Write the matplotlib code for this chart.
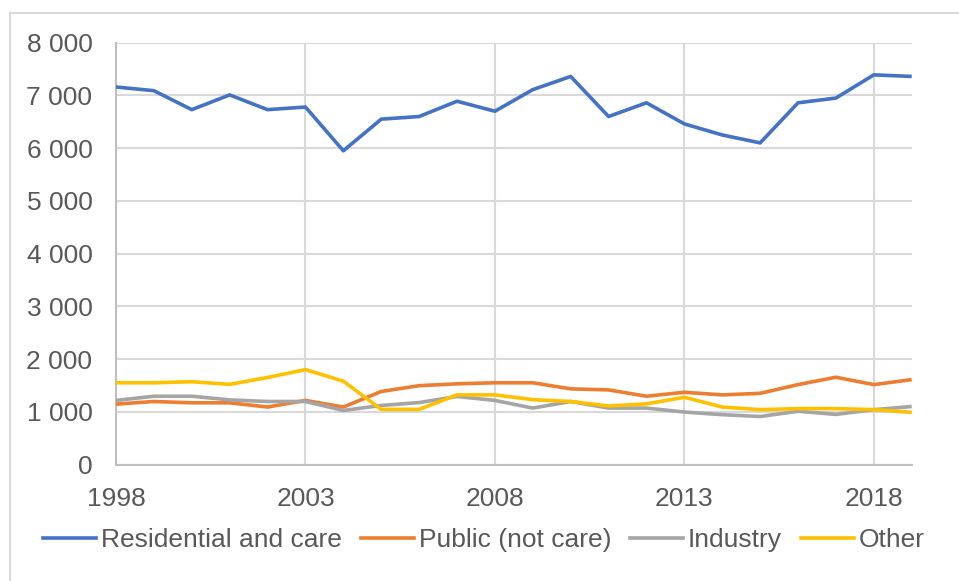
import matplotlib
matplotlib.use("Agg")
import matplotlib.pyplot as plt
from matplotlib.lines import Line2D
from matplotlib.ticker import FuncFormatter, FixedLocator

plt.rcParams['font.family'] = ['Liberation Sans', 'DejaVu Sans']

years = list(range(1998, 2020))
residential = [7160, 7090, 6730, 7010, 6730, 6780, 5950, 6550, 6600, 6890, 6700,
               7110, 7360, 6600, 6860, 6460, 6250, 6100, 6860, 6950, 7390, 7360]
public = [1145, 1195, 1170, 1170, 1090, 1215, 1090, 1385, 1495, 1530, 1550,
          1550, 1435, 1415, 1295, 1370, 1320, 1350, 1515, 1655, 1515, 1610]
industry = [1215, 1295, 1295, 1225, 1195, 1195, 1025, 1120, 1175, 1290, 1215,
            1070, 1195, 1070, 1070, 995, 945, 910, 1010, 950, 1040, 1100]
other = [1550, 1550, 1570, 1520, 1650, 1800, 1580, 1045, 1045, 1320, 1320,
         1230, 1195, 1110, 1150, 1275, 1090, 1040, 1060, 1060, 1040, 990]
series_names = ["Residential and care", "Public (not care)", "Industry", "Other"]
x_ticks = [1998, 2003, 2008, 2013, 2018]
y_ticks = [0, 1000, 2000, 3000, 4000, 5000, 6000, 7000, 8000]

colors = ["#4472C4", "#ED7D31", "#A5A5A5", "#FFC000"]
text_color = "#595959"
grid_color = "#D9D9D9"
fs = 19

fig = plt.figure(figsize=(9.59, 5.81), dpi=100)
fig.patch.set_facecolor("white")
ax = fig.add_axes([116 / 959, 1 - 464.5 / 581, (911.7 - 116) / 959, (464.5 - 42.7) / 581])

for vals, name, c in zip([residential, public, industry, other], series_names, colors):
    ax.plot(years, vals, color=c, lw=2.6, label=name, solid_joinstyle="round",
            solid_capstyle="butt", zorder=3)

ax.set_xlim(1998, 2019)
ax.set_ylim(0, 8000)
ax.xaxis.set_major_locator(FixedLocator(x_ticks))
ax.yaxis.set_major_locator(FixedLocator(y_ticks))
ax.yaxis.set_major_formatter(FuncFormatter(lambda v, p: f"{int(v):,}".replace(",", " ")))
ax.xaxis.set_major_formatter(FuncFormatter(lambda v, p: f"{int(v)}"))
ax.grid(True, color=grid_color, lw=1.5, zorder=0)
ax.set_axisbelow(True)
for s in ["top", "right"]:
    ax.spines[s].set_visible(False)
for s in ["left", "bottom"]:
    ax.spines[s].set_color("#BFBFBF")
    ax.spines[s].set_linewidth(1.5)
ax.tick_params(axis="both", length=0, labelsize=fs, labelcolor=text_color)
ax.tick_params(axis="y", pad=17)
ax.tick_params(axis="x", pad=16)

handles = [Line2D([0], [0], color=c, lw=2.6) for c in colors]
fig.legend(handles, series_names, loc="center", bbox_to_anchor=(484 / 959, 1 - 540 / 581),
           ncol=4, frameon=False, fontsize=fs, labelcolor=text_color,
           handlelength=2.0, handletextpad=0.19, columnspacing=0.72, borderaxespad=0)

# chart border (top and left visible)
fig.add_artist(Line2D([10 / 959, 1], [1 - 13 / 581, 1 - 13 / 581], transform=fig.transFigure,
                      color=grid_color, lw=1.5))
fig.add_artist(Line2D([10 / 959, 10 / 959], [0, 1 - 13 / 581], transform=fig.transFigure,
                      color=grid_color, lw=1.5))

fig.savefig("out.png", dpi=100, facecolor="white")
